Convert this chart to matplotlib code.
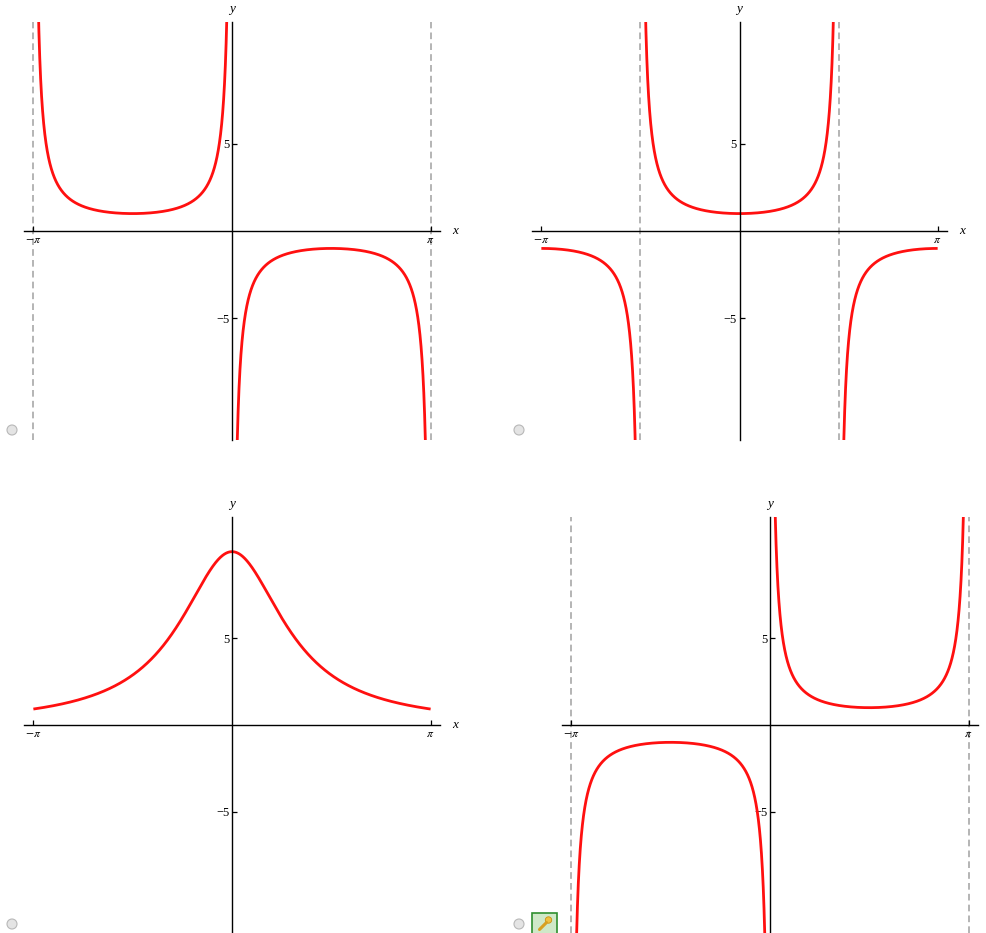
import numpy as np
import matplotlib
matplotlib.use("Agg")
import matplotlib.pyplot as plt
from matplotlib.patches import Circle, Rectangle

plt.rcParams["mathtext.fontset"] = "stix"
plt.rcParams["font.family"] = ["Liberation Serif", "DejaVu Serif"]

W, H = 987, 933
PI = np.pi

# Functions drawn in each panel (top-left, top-right, bottom-left, bottom-right)
panel_names = ["neg_csc", "sec", "bell", "csc"]
curve_funcs = {
    "neg_csc": lambda x: -1.0 / np.sin(x),
    "sec": lambda x: 1.0 / np.cos(x),
    "bell": lambda x: 10.0 / (1.0 + x ** 2),
    "csc": lambda x: 1.0 / np.sin(x),
}
# Breakpoints (vertical asymptotes / domain ends) for each curve
breakpoints = {
    "neg_csc": [-PI, 0.0, PI],
    "sec": [-PI, -PI / 2, PI / 2, PI],
    "bell": [-PI, PI],
    "csc": [-PI, 0.0, PI],
}
# Which breakpoints are open (asymptotes) vs. closed domain ends
open_ends = {
    "neg_csc": [True, True, True],
    "sec": [False, True, True, False],
    "bell": [False, False],
    "csc": [True, True, True],
}
# Dashed asymptote guide lines
dashed_lines = {
    "neg_csc": [-PI, PI],
    "sec": [-PI / 2, PI / 2],
    "bell": [],
    "csc": [-PI, PI],
}
x_ticks = [-PI, PI]
x_tick_labels = [r"$-\pi$", r"$\pi$"]
y_ticks = [-5, 5]
y_tick_labels = ["\u22125", "5"]
x_limits = (-3.29, 3.29)
y_limits = (-12, 12)

# Axes boxes in pixels: left, top, right, bottom
boxes = {
    "neg_csc": (24, 22, 440, 440),
    "sec": (532, 22, 947, 440),
    "bell": (24, 517, 440, 933),
    "csc": (562, 517, 978, 933),
}

fig = plt.figure(figsize=(W / 100, H / 100), dpi=100)
fig.patch.set_facecolor("white")

# Overlay layer for small interface markers
ov = fig.add_axes([0, 0, 1, 1], zorder=0)
ov.set_xlim(0, W)
ov.set_ylim(H, 0)
ov.axis("off")
for cx, cy in [(12, 430), (519, 430), (12, 924), (519, 924)]:
    ov.add_patch(Circle((cx, cy), 5, facecolor="#e4e4e4", edgecolor="#b8b8b8", lw=0.8))
ov.add_patch(Rectangle((532, 913), 25, 22, facecolor="#cfe8c8", edgecolor="#2f8f2f", lw=1.2))
ov.add_patch(Circle((548.5, 920), 3.2, facecolor="#f0c040", edgecolor="#c89010", lw=0.6))
ov.plot([546.5, 539.5], [922.5, 929.5], color="#d8a020", lw=2.2, solid_capstyle="round")

for name in panel_names:
    l, t, r, b = boxes[name]
    ax = fig.add_axes([l / W, 1 - b / H, (r - l) / W, (b - t) / H], zorder=1)
    ax.set_xlim(*x_limits)
    ax.set_ylim(*y_limits)
    ax.patch.set_alpha(0)
    for side in ("top", "right"):
        ax.spines[side].set_visible(False)
    for side in ("left", "bottom"):
        ax.spines[side].set_position("zero")
        ax.spines[side].set_linewidth(1.0)
        ax.spines[side].set_color("black")
        ax.spines[side].set_zorder(3)

    ax.set_xticks(x_ticks)
    ax.set_xticklabels(x_tick_labels)
    ax.set_yticks(y_ticks)
    ax.set_yticklabels(y_tick_labels)
    ax.tick_params(direction="in", length=3.5, width=0.9, colors="black",
                   labelsize=9, pad=2)
    ax.tick_params(axis="x", labelsize=8.5, pad=2.5)

    for xv in dashed_lines[name]:
        ax.axvline(xv, color="#a8a8a8", lw=1.2, dashes=(4, 2.5), zorder=1)

    f = curve_funcs[name]
    bps = breakpoints[name]
    opens = open_ends[name]
    for i in range(len(bps) - 1):
        a, c = bps[i], bps[i + 1]
        eps_a = 1e-3 if opens[i] else 0.0
        eps_c = 1e-3 if opens[i + 1] else 0.0
        xs = np.linspace(a + eps_a, c - eps_c, 4000)
        ys = f(xs)
        ax.plot(xs, ys, color="#ff1010", lw=2.0, zorder=2, solid_capstyle="butt")

    # Axis names
    ax.annotate("y", xy=(0, 1), xycoords=("data", "axes fraction"),
                xytext=(0, 5), textcoords="offset points", ha="center",
                va="bottom", fontsize=9.5, style="italic", annotation_clip=False)
    ax.annotate("x", xy=(1, 0), xycoords=("axes fraction", "data"),
                xytext=(9, 0), textcoords="offset points", ha="left",
                va="center", fontsize=9.5, style="italic", annotation_clip=False)

fig.savefig("out.png", dpi=100, facecolor="white")
